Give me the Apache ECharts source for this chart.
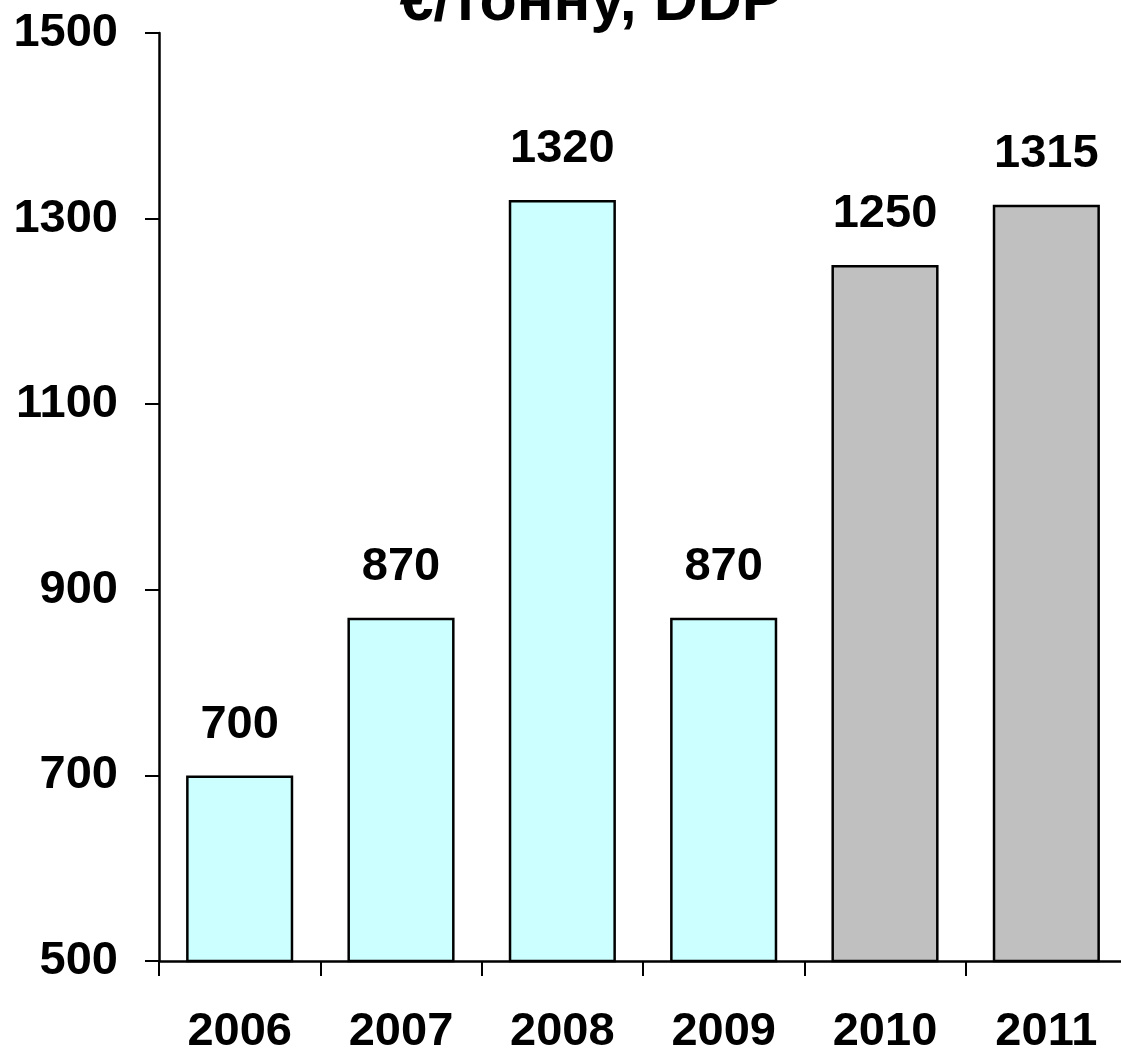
<!DOCTYPE html>
<html>
<head>
<meta charset="utf-8">
<script src="https://cdn.jsdelivr.net/npm/echarts@6/dist/echarts.min.js"></script>
<style>
html,body{margin:0;padding:0;background:#fff;}
#c{width:1121px;height:1053px;}
</style>
</head>
<body>
<div id="c"></div>
<script>
const titleText = '€/тонну, DDP';
const years = ['2006', '2007', '2008', '2009', '2010', '2011'];
const prices = [700, 870, 1320, 870, 1250, 1315];
const forecastYears = ['2010', '2011'];
const yTicks = [500, 700, 900, 1100, 1300, 1500];

const FONT = '"Liberation Sans", Arial, sans-serif';
const chart = echarts.init(document.getElementById('c'), null, {renderer: 'canvas'});
chart.setOption({
  animation: false,
  backgroundColor: '#ffffff',
  title: {
    text: titleText,
    left: 586,
    textAlign: 'center',
    top: -32,
    textStyle: {fontFamily: FONT, fontWeight: 'bold', fontSize: 61, color: '#000'}
  },
  grid: {left: 159, width: 968, top: 33, bottom: 92, containLabel: false, outerBoundsMode: 'none'},
  xAxis: {
    type: 'category',
    data: years,
    axisLine: {lineStyle: {color: '#000', width: 2.5}},
    axisTick: {show: true, alignWithLabel: false, length: 15, lineStyle: {color: '#000', width: 2}},
    axisLabel: {margin: 48, fontFamily: FONT, fontWeight: 'bold', fontSize: 47, color: '#000'}
  },
  yAxis: {
    type: 'value',
    min: yTicks[0],
    max: yTicks[yTicks.length - 1],
    interval: yTicks[1] - yTicks[0],
    axisLine: {show: true, lineStyle: {color: '#000', width: 2.5}},
    axisTick: {show: true, length: 14, lineStyle: {color: '#000', width: 2}},
    splitLine: {show: false},
    axisLabel: {margin: 41, formatter: v => String(v), fontFamily: FONT, fontWeight: 'bold', fontSize: 47, color: '#000'}
  },
  series: [{
    type: 'bar',
    data: prices,
    barCategoryGap: '33.6%',
    itemStyle: {
      color: p => forecastYears.includes(p.name) ? '#C0C0C0' : '#CCFFFF',
      borderColor: '#000',
      borderWidth: 2.5
    },
    label: {
      show: true,
      position: 'top',
      distance: 27,
      fontFamily: FONT,
      fontWeight: 'bold',
      fontSize: 47,
      color: '#000'
    }
  }]
});
</script>
</body>
</html>
